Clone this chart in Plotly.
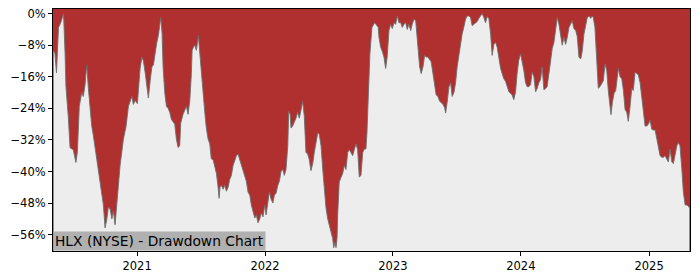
import math
from datetime import datetime
import plotly.graph_objects as go

# Data (time as decimal years, drawdown in %)
years = [
 2020.349,2020.359,2020.371,2020.379,2020.387,2020.402,2020.414,2020.426,2020.438,2020.445,
 2020.463,2020.477,2020.502,2020.523,2020.534,2020.549,2020.568,2020.580,2020.594,2020.607,
 2020.620,2020.633,2020.646,2020.659,2020.685,2020.711,2020.737,2020.750,2020.764,2020.776,
 2020.789,2020.803,2020.815,2020.828,2020.842,2020.854,2020.867,2020.893,2020.914,2020.932,
 2020.945,2020.959,2020.971,2020.984,2021.002,2021.010,2021.023,2021.037,2021.049,2021.063,
 2021.076,2021.088,2021.102,2021.115,2021.127,2021.141,2021.154,2021.166,2021.176,2021.185,
 2021.195,2021.203,2021.216,2021.229,2021.242,2021.255,2021.268,2021.281,2021.294,2021.307,
 2021.320,2021.333,2021.341,2021.359,2021.373,2021.385,2021.398,2021.412,2021.424,2021.430,
 2021.440,2021.451,2021.463,2021.471,2021.479,2021.490,2021.502,2021.516,2021.529,2021.541,
 2021.555,2021.568,2021.580,2021.594,2021.607,2021.620,2021.633,2021.641,2021.648,2021.659,
 2021.672,2021.685,2021.698,2021.711,2021.724,2021.737,2021.750,2021.764,2021.776,2021.789,
 2021.803,2021.815,2021.828,2021.842,2021.854,2021.867,2021.881,2021.893,2021.907,2021.920,
 2021.932,2021.945,2021.959,2021.971,2021.984,2021.998,2022.008,2022.021,2022.034,2022.047,
 2022.061,2022.073,2022.086,2022.100,2022.112,2022.125,2022.139,2022.151,2022.164,2022.178,
 2022.185,2022.196,2022.203,2022.216,2022.229,2022.242,2022.255,2022.268,2022.281,2022.294,
 2022.307,2022.320,2022.333,2022.346,2022.359,2022.373,2022.385,2022.398,2022.412,2022.424,
 2022.438,2022.451,2022.463,2022.477,2022.490,2022.502,2022.516,2022.529,2022.537,2022.547,
 2022.555,2022.563,2022.568,2022.580,2022.594,2022.607,2022.620,2022.633,2022.646,2022.659,
 2022.672,2022.685,2022.698,2022.711,2022.724,2022.737,2022.750,2022.764,2022.776,2022.789,
 2022.797,2022.810,2022.820,2022.836,2022.846,2022.857,2022.867,2022.877,2022.885,2022.891,
 2022.904,2022.916,2022.930,2022.943,2022.955,2022.969,2022.982,2022.995,2023.008,2023.021,
 2023.034,2023.047,2023.061,2023.073,2023.086,2023.100,2023.112,2023.125,2023.139,2023.151,
 2023.164,2023.178,2023.185,2023.196,2023.209,2023.221,2023.235,2023.248,2023.260,2023.273,
 2023.287,2023.299,2023.313,2023.326,2023.338,2023.352,2023.365,2023.377,2023.391,2023.404,
 2023.412,2023.424,2023.438,2023.451,2023.463,2023.477,2023.490,2023.502,2023.516,2023.529,
 2023.541,2023.555,2023.568,2023.580,2023.594,2023.607,2023.620,2023.633,2023.646,2023.659,
 2023.672,2023.685,2023.698,2023.711,2023.724,2023.737,2023.750,2023.764,2023.776,2023.789,
 2023.803,2023.815,2023.828,2023.842,2023.854,2023.867,2023.881,2023.893,2023.907,2023.920,
 2023.932,2023.945,2023.959,2023.971,2023.984,2023.998,2024.010,2024.023,2024.037,2024.049,
 2024.063,2024.076,2024.088,2024.102,2024.115,2024.127,2024.141,2024.154,2024.166,2024.180,
 2024.193,2024.205,2024.219,2024.232,2024.245,2024.258,2024.271,2024.284,2024.297,2024.310,
 2024.323,2024.336,2024.349,2024.362,2024.375,2024.388,2024.401,2024.414,2024.428,2024.440,
 2024.453,2024.467,2024.479,2024.492,2024.506,2024.518,2024.532,2024.545,2024.557,2024.565,
 2024.578,2024.586,2024.592,2024.604,2024.617,2024.631,2024.643,2024.657,2024.670,2024.682,
 2024.696,2024.703,2024.714,2024.727,2024.740,2024.753,2024.760,2024.774,2024.787,2024.800,
 2024.813,2024.826,2024.838,2024.852,2024.865,2024.877,2024.891,2024.904,2024.916,2024.930,
 2024.943,2024.956,2024.969,2024.982,2024.995,2025.008,2025.021,2025.034,2025.047,2025.061,
 2025.073,2025.086,2025.100,2025.112,2025.125,2025.139,2025.151,2025.164,2025.178,2025.190,
 2025.203,2025.217,2025.229,2025.242,2025.256,2025.268,2025.282,2025.295,2025.307,2025.315,
]

drawdown = [
 -9.5,-10,-15,-8,-3.5,-2.5,-1,0,-10,-18.5,
 -26,-34,-34.5,-37.7,-35,-23.5,-20,-21,-18,-13,
 -19,-24,-28.5,-31,-36.8,-41.8,-48.5,-54.3,-52,-49,
 -49.5,-52,-50,-53.5,-48.5,-45,-38.5,-31.8,-28.5,-23.5,
 -22,-21,-23,-22,-22.8,-19,-14,-11,-12,-15,
 -18,-21.4,-17,-13.5,-13,-9.3,-7.3,-5.5,-3,-1,
 -5,-13.5,-20,-23.5,-24,-25,-26.8,-27.5,-28,-31.8,
 -33.9,-33.5,-27.7,-25.5,-24.3,-23.5,-25.5,-22,-15.2,-9.3,
 -8.5,-8,-9.3,-7.5,-5.6,-10,-15.2,-20,-25,-29,
 -31.8,-33,-36.8,-37,-39,-40.5,-44,-46.8,-44,-43.5,
 -44.5,-43.5,-45,-44,-42,-41,-38.5,-37,-36,-35.6,
 -37,-38.5,-40,-41,-42.5,-45.2,-46,-48.5,-50,-51.8,
 -51,-53,-52,-50.5,-51.5,-48.5,-51,-48.5,-45.2,-47,
 -48,-46,-45.5,-43.5,-42.5,-40,-39.5,-41,-39.5,-33.5,
 -24.8,-25.5,-29,-28.5,-27.5,-26.5,-25,-26.5,-24.5,-22.2,
 -26,-35.2,-35.5,-37,-39.8,-38,-35.2,-32.7,-30.2,-30.5,
 -33.5,-39.3,-44.3,-49.3,-52,-53.5,-55.2,-57,-59.3,-58,
 -59.3,-57,-51,-42.7,-41.5,-40.5,-38.5,-39.5,-35.2,-34.5,
 -35.2,-36,-34.5,-33,-34.5,-41.4,-41,-35.2,-34.3,-34.3,
 -30.2,-19.3,-10.2,-3.5,-3,-2.3,-2.7,-3,-3.5,-6,
 -8.5,-9.5,-11,-13.9,-11,-4.3,-2.7,-3.8,-2.3,-2.7,
 -0.6,-2.3,-2.3,-3.5,-2.7,-2.3,-4,-2.7,-4.3,-2.7,
 -1.4,-1.8,-5,-10.2,-13.5,-15.2,-13.5,-10.6,-11,-11,
 -11.8,-12.2,-15.2,-17.5,-20.6,-21,-22.2,-22.5,-23,-23.8,
 -25.2,-22.5,-18.5,-17.5,-21,-20,-17.5,-13.5,-10.2,-7.8,
 -5.2,-3.3,-1.4,-0.6,-0.6,-1,-3.1,-2.7,-2.3,-2,
 -1.2,-0.6,0,-1,-2.3,-0.8,-1.2,-5.2,-10.6,-7.8,
 -7.3,-8.5,-11.5,-13.9,-15.2,-16.5,-17.2,-18.5,-19.8,-20.2,
 -20.6,-21.8,-19.8,-15.2,-11.8,-10.2,-11.8,-14.3,-17.5,-18.5,
 -18.5,-18,-14.8,-16,-19.8,-19,-17.5,-16.7,-13.5,-19.3,
 -19,-18.5,-15.2,-11.8,-8.8,-7.3,-3.5,-1,-2.7,-5.2,
 -8,-6,-7.8,-6,-3.5,-2.7,-1.8,-3.8,-4.3,-5.8,
 -11,-11.5,-9.5,-5.2,-2.3,-1,-0.6,-1.2,-0.6,-1,
 -3.5,-7.7,-13.5,-18.9,-18.5,-17.8,-17,-12.7,-14.5,-19.5,
 -23.5,-25.6,-22.5,-20.2,-19.5,-15.2,-13.9,-16,-16.5,-19.5,
 -24.3,-25,-27.3,-23.5,-18.9,-19.5,-14.8,-15.2,-15.5,-17.5,
 -21,-25,-28.5,-28.5,-28,-27,-29.3,-29.5,-29.5,-31.8,
 -33.5,-36,-36.4,-36.4,-36,-36.8,-37.6,-34.3,-37.6,-38,
 -36,-33.5,-32.7,-33.5,-39.3,-45.2,-48.5,-48.5,-48.8,-49.2,
]

y_ticks = [0, -8, -16, -24, -32, -40, -48, -56]
y_tick_labels = ["0%", "\u22128%", "\u221216%", "\u221224%", "\u221232%", "\u221240%", "\u221248%", "\u221256%"]
x_tick_years = [2021, 2022, 2023, 2024, 2025]
x_tick_labels = ["2021", "2022", "2023", "2024", "2025"]
x_limits = [2020.344, 2025.320]
y_limits = [-60.15, 1.17]
title_text = "HLX (NYSE) - Drawdown Chart"


def yr_to_date(y):
    yi = int(math.floor(y))
    start = datetime(yi, 1, 1)
    end = datetime(yi + 1, 1, 1)
    return start + (end - start) * (y - yi)


dates = [yr_to_date(v) for v in years]

RED = "rgb(176,48,48)"
BG = "#ededed"
FONT = "DejaVu Sans"

fig = go.Figure()
# baseline at the bottom of the axis, then fill the area below the curve in grey
fig.add_trace(go.Scatter(x=dates, y=[y_limits[0]] * len(dates), mode="lines",
                         line=dict(width=0, color=BG), hoverinfo="skip", showlegend=False))
fig.add_trace(go.Scatter(x=dates, y=drawdown, mode="lines", fill="tonexty",
                         fillcolor=BG, line=dict(color="rgba(110,110,110,0.9)", width=1),
                         showlegend=False))

fig.update_layout(
    width=700, height=280,
    margin=dict(l=53, r=10, t=7, b=28),
    paper_bgcolor="white",
    plot_bgcolor=RED,
    font=dict(family=FONT, size=11.5, color="black"),
    showlegend=False,
)
fig.update_xaxes(
    type="date",
    range=[yr_to_date(x_limits[0]), yr_to_date(x_limits[1])],
    tickvals=[datetime(y, 1, 1) for y in x_tick_years],
    ticktext=x_tick_labels,
    ticks="outside", ticklen=4, tickcolor="black", tickwidth=1,
    showline=True, linecolor="black", linewidth=1, mirror=True,
    showgrid=False, zeroline=False,
    tickfont=dict(family=FONT, size=11.5, color="black"),
)
fig.update_yaxes(
    range=y_limits,
    tickvals=y_ticks, ticktext=y_tick_labels,
    ticks="outside", ticklen=4, tickcolor="black", tickwidth=1,
    showline=True, linecolor="black", linewidth=1, mirror=True,
    showgrid=False, zeroline=False,
    tickfont=dict(family=FONT, size=11.5, color="black"),
)
fig.add_annotation(
    text=title_text, xref="paper", yref="paper", x=0, y=0,
    xanchor="left", yanchor="bottom", showarrow=False,
    bgcolor="#b0b0b0", borderpad=1,
    font=dict(family=FONT, size=13.8, color="black"),
)

fig.write_html("out.html")
